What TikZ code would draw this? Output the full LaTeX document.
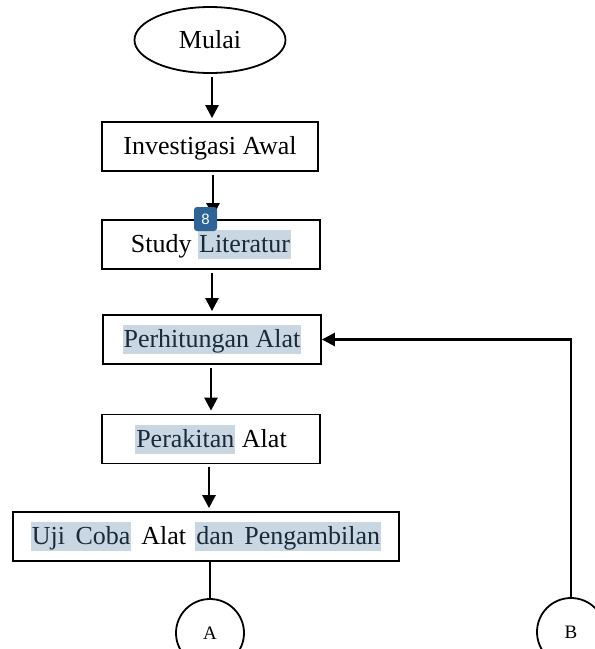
\documentclass[tikz,border=0pt]{standalone}
\usepackage{fontspec}
\setmainfont{Liberation Serif}
\newfontfamily\badgefont{Liberation Sans}
\usetikzlibrary{arrows.meta,shapes.geometric}
\definecolor{hlc}{HTML}{C9D7E3}
\definecolor{hltext}{HTML}{1B2A3A}
\definecolor{badgec}{HTML}{2E6496}
\newcommand{\mystrut}{\rule[-5.5pt]{0pt}{27pt}}
\newcommand{\hlt}[1]{{\setlength{\fboxsep}{1pt}\colorbox{hlc}{\mystrut\color{hltext}#1}}}
\begin{document}
\begin{tikzpicture}[x=1pt,y=-1pt,
  box/.style={draw, line width=1.8pt, minimum height=49pt, inner sep=0pt, font=\fontsize{26}{30}\selectfont},
  arr/.style={line width=2.6pt, -{Triangle[width=13pt,length=13pt]}, shorten <=3pt, shorten >=3pt},
  plain/.style={line width=2.6pt},
  conn/.style={circle, draw, line width=1.8pt, minimum size=68pt, inner sep=0pt, font=\fontsize{19}{22}\selectfont}]
\clip (0,0) rectangle (595,649);
\fill[white] (0,0) rectangle (595,649);
\node[ellipse, draw, line width=1.8pt, minimum width=151pt, minimum height=66pt, inner sep=0pt, font=\fontsize{26}{30}\selectfont] (mulai) at (210,40) {\mystrut Mulai};
\node[box, minimum width=216pt] (inv) at (210,146.5) {\mystrut Investigasi Awal};
\node[box, minimum width=218pt] (study) at (211,244.5) {\mystrut Study \hlt{Literatur}};
\node[box, minimum width=218pt] (perh) at (212,339.5) {\hlt{Perhitungan Alat}};
\node[box, minimum width=218pt] (perak) at (211,439) {\mystrut\hlt{Perakitan} Alat};
\node[box, minimum width=386pt] (uji) at (206,536.5) {\spaceskip=0.4em plus 0.1em\hlt{Uji Coba}\hspace{0.38em}Alat\hspace{0.36em}\hlt{dan Pengambilan}};
\node[conn] (A) at (210,633) {A};
\node[conn] (B) at (571,632) {B};
\coordinate (x1) at (212,0);
\coordinate (x2) at (213,0);
\coordinate (x3) at (212,0);
\coordinate (x4) at (211,0);
\coordinate (x5) at (209,0);
\draw[arr] (mulai.south -| x1) -- (inv.north -| x1);
\draw[arr] (inv.south -| x2) -- (study.north -| x2);
\draw[arr] (study.south -| x3) -- (perh.north -| x3);
\draw[arr] (perh.south -| x4) -- (perak.north -| x4);
\draw[arr] (perak.south -| x5) -- (uji.north -| x5);
\draw[plain] (uji.south -| A.north) -- (A.north);
\draw[arr, shorten <=0pt, shorten >=0pt] (B.north) |- (perh.east);
\node[fill=badgec, rounded corners=3pt, minimum width=23pt, minimum height=24pt, inner sep=0pt, text=white, font=\badgefont\fontsize{15}{18}\selectfont] (badge) at (205.5,219) {8};
\end{tikzpicture}
\end{document}
